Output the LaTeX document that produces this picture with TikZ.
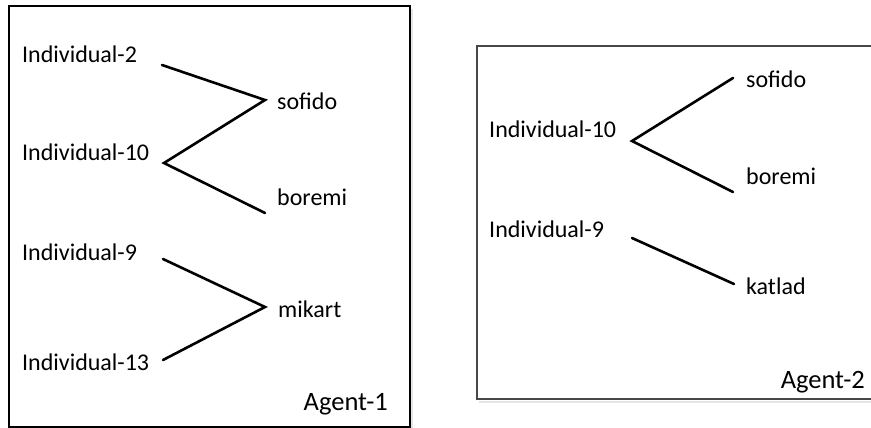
\documentclass[tikz,border=0pt]{standalone}
\usepackage{fontspec}
\setmainfont{Carlito}
\begin{document}
\begin{tikzpicture}[x=1pt,y=-1pt,
  lbl/.style={anchor=base west,inner sep=0pt,font=\fontsize{24}{28}\selectfont},
  agent/.style={anchor=base east,inner sep=0pt,font=\fontsize{26.5}{30}\selectfont},
  link/.style={line width=2.6pt,line cap=round,line join=miter},
  panel/.style={line width=1.3pt},
  shade/.style={line width=2pt,draw=black!10}]
\useasboundingbox (0,0) rectangle (871,428);
\clip (0,0) rectangle (871,428);

% ---- Agent-1 panel ----
\draw[shade] (412,9) -- (412,429);
\draw[panel,draw=black] (9,6) rectangle (410,427);

\node[lbl] (a1i2)  at (22,63)  {Individual-2};
\node[lbl] (a1i10) at (22,160) {Individual-10};
\node[lbl] (a1i9)  at (22,260) {Individual-9};
\node[lbl] (a1i13) at (22,370) {Individual-13};
\node[lbl] (a1sof) at (277,110) {sofido};
\node[lbl] (a1bor) at (277,205) {boremi};
\node[lbl] (a1mik) at (278,317) {mikart};
\node[agent] (ag1) at (388,410) {Agent-1};

\coordinate (p2)   at (162,65);
\coordinate (psof) at (265,100);
\coordinate (p10)  at (164,163);
\coordinate (pbor) at (265,213);
\coordinate (p9)   at (163,259);
\coordinate (pmik) at (265,307);
\coordinate (p13)  at (163,360);

\draw[link] (p2) -- (psof) -- (p10) -- (pbor);
\draw[link] (p9) -- (pmik) -- (p13);

% ---- Agent-2 panel ----
\draw[shade] (479,402) -- (880,402);
\draw[panel,draw=black!72,line width=1.8pt] (477,46) rectangle (890,399);

\node[lbl] (a2i10) at (489,137) {Individual-10};
\node[lbl] (a2i9)  at (489,237) {Individual-9};
\node[lbl] (a2sof) at (746,88)  {sofido};
\node[lbl] (a2bor) at (746,184) {boremi};
\node[lbl] (a2kat) at (746,294) {katlad};
\node[agent] (ag2) at (865,388) {Agent-2};

\coordinate (q10)  at (632,141);
\coordinate (qsof) at (733,78);
\coordinate (qbor) at (733,192);
\coordinate (q9)   at (632,238);
\coordinate (qkat) at (734,284);

\draw[link] (qsof) -- (q10) -- (qbor);
\draw[link] (q9) -- (qkat);
\end{tikzpicture}
\end{document}
